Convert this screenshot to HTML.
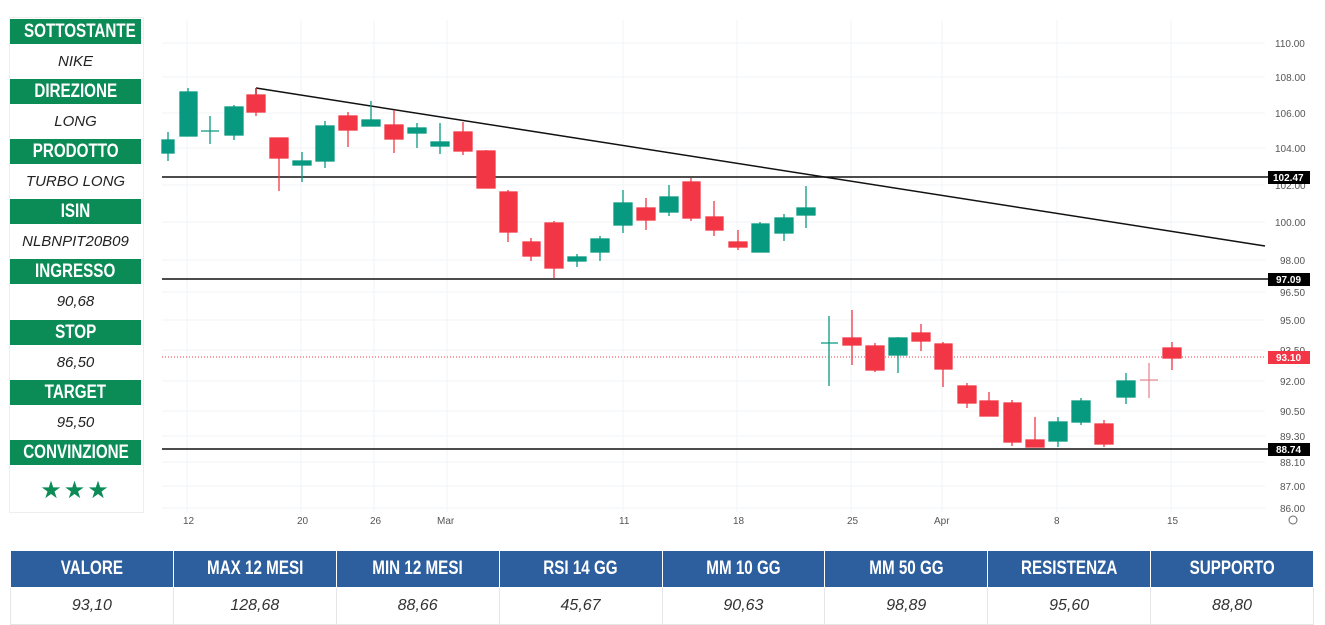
<!DOCTYPE html>
<html><head><meta charset="utf-8"><style>
body{margin:0;width:1325px;height:623px;background:#fff;overflow:hidden;font-family:"Liberation Sans",sans-serif;position:relative}
.lp{position:absolute;left:9px;top:17px;width:133px;height:494px;border:1px solid #eee;background:#fff}
.h{position:absolute;left:10px;width:131px;height:25px;background:#0b8c57;color:#fff;font-weight:bold;font-size:19px;text-align:center;line-height:25px;white-space:nowrap}
.h span,.tb tr.hd td span{display:inline-block;transform:scaleX(0.8)}
.v{position:absolute;left:10px;width:131px;text-align:center;font-style:italic;font-size:15px;color:#222}
.tb{position:absolute;left:10px;top:550px;width:1304px;border-collapse:collapse;table-layout:fixed}
.tb td{text-align:center;border:1px solid #e6e6e6;}
.tb tr.hd td{background:#2d5f9e;color:#fff;font-weight:bold;font-size:19px;height:34px;border:1px solid #fff;white-space:nowrap}
.tb tr.vl td{font-style:italic;font-size:16px;color:#333;height:34px}
</style></head><body>
<div class="lp"></div>
<div class="h" style="top:19px"><span>SOTTOSTANTE</span></div><div class="v" style="top:53px">NIKE</div>
<div class="h" style="top:79px"><span>DIREZIONE</span></div><div class="v" style="top:113px">LONG</div>
<div class="h" style="top:139px"><span>PRODOTTO</span></div><div class="v" style="top:173px">TURBO LONG</div>
<div class="h" style="top:199px"><span>ISIN</span></div><div class="v" style="top:233px">NLBNPIT20B09</div>
<div class="h" style="top:259px"><span>INGRESSO</span></div><div class="v" style="top:293px">90,68</div>
<div class="h" style="top:320px"><span>STOP</span></div><div class="v" style="top:354px">86,50</div>
<div class="h" style="top:380px"><span>TARGET</span></div><div class="v" style="top:414px">95,50</div>
<div class="h" style="top:440px"><span>CONVINZIONE</span></div>
<div class="v" style="top:476px;color:#0b8c57;font-style:normal;font-size:24px;letter-spacing:2px">★★★</div>
<svg width="1325" height="545" style="position:absolute;left:0;top:0" font-family="Liberation Sans,sans-serif">
<g stroke="#f2f3f5" stroke-width="1">
<line x1="187" y1="20" x2="187" y2="512"/><line x1="301" y1="20" x2="301" y2="512"/><line x1="374" y1="20" x2="374" y2="512"/><line x1="447" y1="20" x2="447" y2="512"/><line x1="623" y1="20" x2="623" y2="512"/><line x1="737" y1="20" x2="737" y2="512"/><line x1="851" y1="20" x2="851" y2="512"/><line x1="942" y1="20" x2="942" y2="512"/><line x1="1057" y1="20" x2="1057" y2="512"/><line x1="1171" y1="20" x2="1171" y2="512"/>
<line x1="162" y1="43" x2="1265" y2="43"/><line x1="162" y1="77" x2="1265" y2="77"/><line x1="162" y1="113" x2="1265" y2="113"/><line x1="162" y1="148" x2="1265" y2="148"/><line x1="162" y1="185" x2="1265" y2="185"/><line x1="162" y1="222" x2="1265" y2="222"/><line x1="162" y1="260" x2="1265" y2="260"/><line x1="162" y1="292" x2="1265" y2="292"/><line x1="162" y1="320" x2="1265" y2="320"/><line x1="162" y1="350" x2="1265" y2="350"/><line x1="162" y1="381" x2="1265" y2="381"/><line x1="162" y1="411" x2="1265" y2="411"/><line x1="162" y1="436" x2="1265" y2="436"/><line x1="162" y1="462" x2="1265" y2="462"/><line x1="162" y1="486" x2="1265" y2="486"/><line x1="162" y1="508" x2="1265" y2="508"/>
</g>
<g font-size="10" fill="#555">
<text x="1275" y="47">110.00</text><text x="1275" y="81">108.00</text><text x="1275" y="117">106.00</text><text x="1275" y="152">104.00</text><text x="1275" y="189">102.00</text><text x="1275" y="226">100.00</text><text x="1280" y="264">98.00</text><text x="1280" y="296">96.50</text><text x="1280" y="324">95.00</text><text x="1280" y="354">93.50</text><text x="1280" y="385">92.00</text><text x="1280" y="415">90.50</text><text x="1280" y="440">89.30</text><text x="1280" y="466">88.10</text><text x="1280" y="490">87.00</text><text x="1280" y="512">86.00</text>
<text x="183" y="524">12</text><text x="297" y="524">20</text><text x="370" y="524">26</text><text x="437" y="524">Mar</text><text x="619" y="524">11</text><text x="733" y="524">18</text><text x="847" y="524">25</text><text x="934" y="524">Apr</text><text x="1054" y="524">8</text><text x="1167" y="524">15</text>
</g>
<circle cx="1293" cy="520" r="4" fill="none" stroke="#666"/>
<g stroke="#111" stroke-width="1.5">
<line x1="162" y1="177" x2="1268" y2="177"/><line x1="162" y1="279" x2="1268" y2="279"/><line x1="162" y1="449" x2="1268" y2="449"/>
<line x1="256" y1="88" x2="1265" y2="246"/><line x1="256" y1="88" x2="256" y2="96"/>
</g>
<line x1="162" y1="357" x2="1265" y2="357" stroke="#f23645" stroke-width="1" stroke-dasharray="1,2"/>
<g font-size="10" fill="#fff" font-weight="bold">
<rect x="1268" y="171" width="42" height="13" fill="#000"/><text x="1273" y="181">102.47</text>
<rect x="1268" y="273" width="42" height="13" fill="#000"/><text x="1276" y="283">97.09</text>
<rect x="1268" y="443" width="42" height="13" fill="#000"/><text x="1276" y="453">88.74</text>
<rect x="1268" y="351" width="42" height="13" fill="#f23645"/><text x="1276" y="361">93.10</text>
</g>
<g stroke="#089981" fill="#089981" stroke-width="1.3">
<line x1="168" y1="132" x2="168" y2="161"/><rect x="162" y="140" width="12" height="13"/>
<line x1="188" y1="88" x2="188" y2="136"/><rect x="180" y="92" width="17" height="44"/>
<line x1="210" y1="116" x2="210" y2="144"/><line x1="201" y1="131" x2="219" y2="131"/>
<line x1="234" y1="105" x2="234" y2="140"/><rect x="225" y="107" width="18" height="28"/>
<line x1="302" y1="152" x2="302" y2="182"/><rect x="293" y="161" width="18" height="4"/>
<line x1="325" y1="121" x2="325" y2="168"/><rect x="316" y="126" width="18" height="35"/>
<line x1="371" y1="101" x2="371" y2="126"/><rect x="362" y="120" width="18" height="6"/>
<line x1="417" y1="123" x2="417" y2="148"/><rect x="408" y="128" width="18" height="5"/>
<line x1="440" y1="123" x2="440" y2="154"/><rect x="431" y="142" width="18" height="4"/>
<line x1="577" y1="254" x2="577" y2="267"/><rect x="568" y="257" width="18" height="4"/>
<line x1="600" y1="236" x2="600" y2="261"/><rect x="591" y="239" width="18" height="13"/>
<line x1="623" y1="190" x2="623" y2="233"/><rect x="614" y="203" width="18" height="22"/>
<line x1="669" y1="185" x2="669" y2="216"/><rect x="660" y="197" width="18" height="15"/>
<line x1="760" y1="222" x2="760" y2="252"/><rect x="752" y="224" width="17" height="28"/>
<line x1="784" y1="214" x2="784" y2="241"/><rect x="775" y="218" width="18" height="15"/>
<line x1="806" y1="186" x2="806" y2="228"/><rect x="797" y="208" width="18" height="7"/>
<line x1="829" y1="316" x2="829" y2="386"/><line x1="821" y1="343" x2="838" y2="343"/>
<line x1="898" y1="337" x2="898" y2="373"/><rect x="889" y="338" width="18" height="17"/>
<line x1="1058" y1="417" x2="1058" y2="447"/><rect x="1049" y="422" width="18" height="19"/>
<line x1="1081" y1="398" x2="1081" y2="425"/><rect x="1072" y="401" width="18" height="21"/>
<line x1="1126" y1="373" x2="1126" y2="404"/><rect x="1117" y="381" width="18" height="16"/>
</g>
<g stroke="#f23645" fill="#f23645" stroke-width="1.3">
<line x1="256" y1="88" x2="256" y2="116"/><rect x="247" y="95" width="18" height="17"/>
<line x1="279" y1="138" x2="279" y2="191"/><rect x="270" y="138" width="18" height="20"/>
<line x1="348" y1="112" x2="348" y2="147"/><rect x="339" y="116" width="18" height="14"/>
<line x1="394" y1="110" x2="394" y2="153"/><rect x="385" y="125" width="18" height="14"/>
<line x1="463" y1="122" x2="463" y2="155"/><rect x="454" y="132" width="18" height="19"/>
<line x1="486" y1="150" x2="486" y2="188"/><rect x="477" y="151" width="18" height="37"/>
<line x1="508" y1="190" x2="508" y2="242"/><rect x="500" y="192" width="17" height="40"/>
<line x1="531" y1="238" x2="531" y2="261"/><rect x="523" y="242" width="17" height="14"/>
<line x1="554" y1="221" x2="554" y2="278"/><rect x="545" y="223" width="18" height="45"/>
<line x1="646" y1="198" x2="646" y2="230"/><rect x="637" y="208" width="18" height="12"/>
<line x1="691" y1="178" x2="691" y2="221"/><rect x="683" y="182" width="17" height="36"/>
<line x1="714" y1="201" x2="714" y2="236"/><rect x="706" y="217" width="17" height="13"/>
<line x1="738" y1="230" x2="738" y2="250"/><rect x="729" y="242" width="18" height="5"/>
<line x1="852" y1="310" x2="852" y2="365"/><rect x="843" y="338" width="18" height="7"/>
<line x1="875" y1="343" x2="875" y2="372"/><rect x="866" y="346" width="18" height="24"/>
<line x1="921" y1="324" x2="921" y2="351"/><rect x="912" y="333" width="18" height="8"/>
<line x1="943" y1="342" x2="943" y2="387"/><rect x="935" y="344" width="17" height="25"/>
<line x1="967" y1="383" x2="967" y2="408"/><rect x="958" y="386" width="18" height="17"/>
<line x1="989" y1="392" x2="989" y2="416"/><rect x="980" y="401" width="18" height="15"/>
<line x1="1012" y1="400" x2="1012" y2="446"/><rect x="1004" y="403" width="17" height="39"/>
<line x1="1035" y1="417" x2="1035" y2="447"/><rect x="1026" y="440" width="18" height="7"/>
<line x1="1104" y1="420" x2="1104" y2="447"/><rect x="1095" y="424" width="18" height="20"/>
<line x1="1172" y1="342" x2="1172" y2="370"/><rect x="1163" y="348" width="18" height="10"/>
</g>
<g stroke="#e58a95" stroke-width="1.3"><line x1="1149" y1="363" x2="1149" y2="398"/><line x1="1140" y1="380" x2="1158" y2="380"/></g>
</svg>
<table class="tb">
<tr class="hd"><td><span>VALORE</span></td><td><span>MAX 12 MESI</span></td><td><span>MIN 12 MESI</span></td><td><span>RSI 14 GG</span></td><td><span>MM 10 GG</span></td><td><span>MM 50 GG</span></td><td><span>RESISTENZA</span></td><td><span>SUPPORTO</span></td></tr>
<tr class="vl"><td>93,10</td><td>128,68</td><td>88,66</td><td>45,67</td><td>90,63</td><td>98,89</td><td>95,60</td><td>88,80</td></tr>
</table>
</body></html>
